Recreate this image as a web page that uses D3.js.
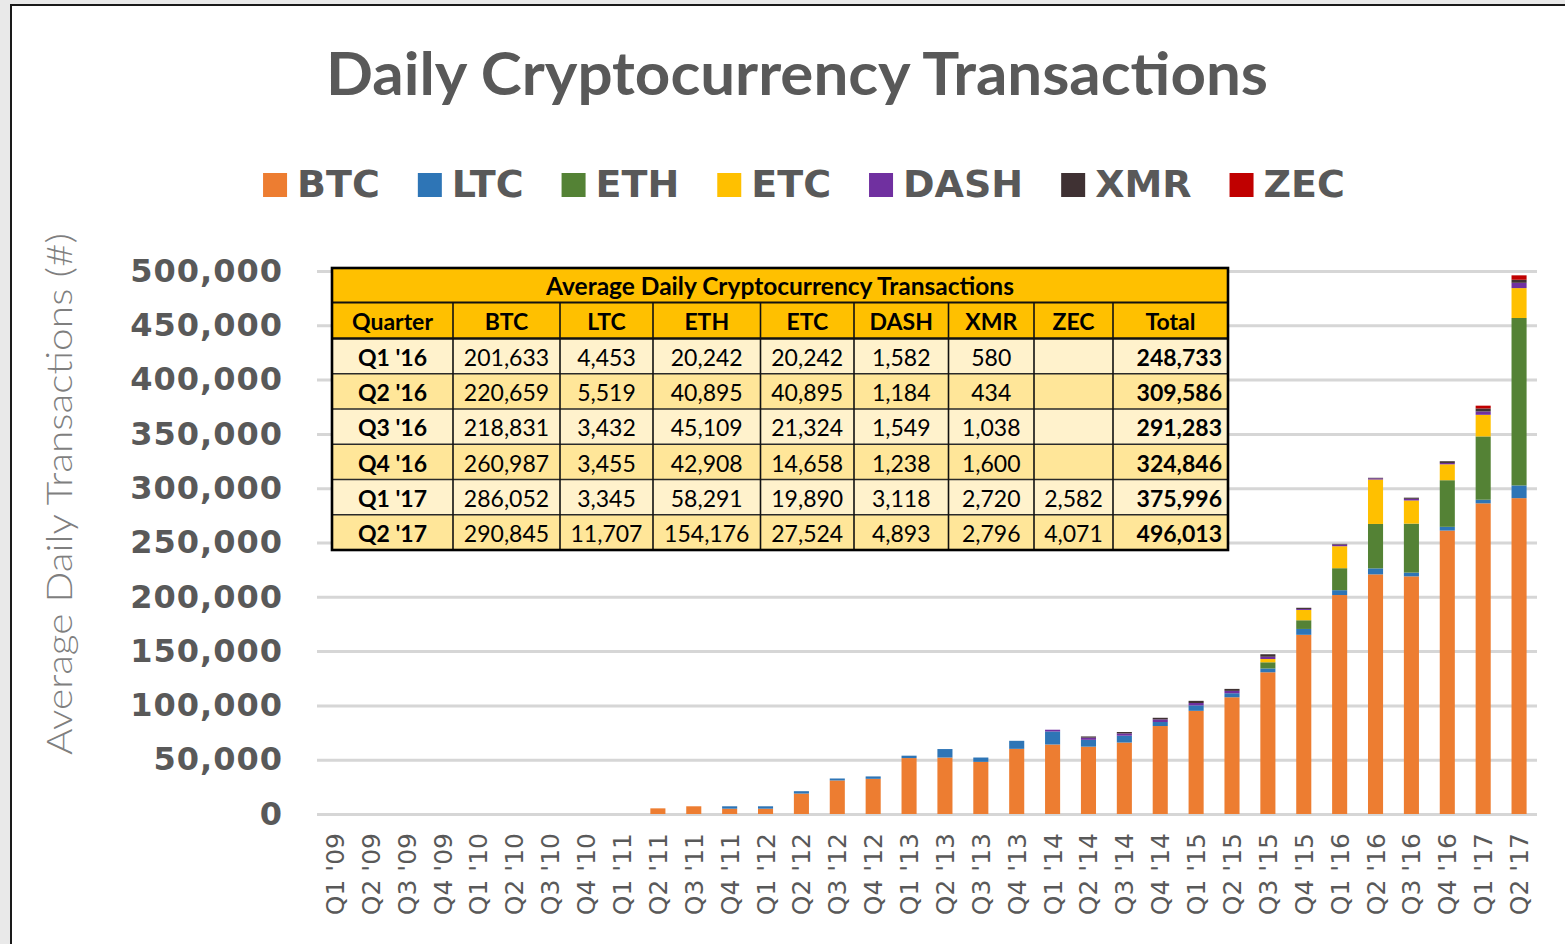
<!DOCTYPE html>
<html>
<head>
<meta charset="utf-8">
<script src="https://cdn.jsdelivr.net/npm/d3@7"></script>
<style>
  body { margin: 0; background: #e9e9e9; }
  svg { display: block; }
</style>
</head>
<body>
<div id="chart"></div>
<script>
// ---- data ----
var quarters = ["Q1 '09", "Q2 '09", "Q3 '09", "Q4 '09", "Q1 '10", "Q2 '10", "Q3 '10", "Q4 '10",
  "Q1 '11", "Q2 '11", "Q3 '11", "Q4 '11", "Q1 '12", "Q2 '12", "Q3 '12", "Q4 '12",
  "Q1 '13", "Q2 '13", "Q3 '13", "Q4 '13", "Q1 '14", "Q2 '14", "Q3 '14", "Q4 '14",
  "Q1 '15", "Q2 '15", "Q3 '15", "Q4 '15", "Q1 '16", "Q2 '16", "Q3 '16", "Q4 '16",
  "Q1 '17", "Q2 '17"];

var coins = ["BTC", "LTC", "ETH", "ETC", "DASH", "XMR", "ZEC"];
var coinColors = ["#ed7d31", "#2e75b6", "#548235", "#ffc000", "#7030a0", "#3f3133", "#c00000"];

var btc = [0, 0, 0, 0, 0, 0, 0, 0, 0, 5200, 7100, 4900, 4900, 18800, 30900, 32400,
  51500, 52000, 48000, 60000, 64000, 62000, 65800, 81000, 95000, 107500, 130500, 165000,
  201633, 220659, 218831, 260987, 286052, 290845];
var ltc = [0, 0, 0, 0, 0, 0, 0, 0, 0, 0, 0, 2200, 2200, 2200, 1800, 2200,
  2200, 7800, 4000, 7400, 12000, 6300, 6300, 3700, 5000, 3700, 3500, 5400,
  4453, 5519, 3432, 3455, 3345, 11707];
var eth = [0, 0, 0, 0, 0, 0, 0, 0, 0, 0, 0, 0, 0, 0, 0, 0,
  0, 0, 0, 0, 0, 0, 0, 0, 0, 0, 5700, 8000,
  20242, 40895, 45109, 42908, 58291, 154176];
var etc = [0, 0, 0, 0, 0, 0, 0, 0, 0, 0, 0, 0, 0, 0, 0, 0,
  0, 0, 0, 0, 0, 0, 0, 0, 0, 0, 3000, 9500,
  20242, 40895, 21324, 14658, 19890, 27524];
var dash = [0, 0, 0, 0, 0, 0, 0, 0, 0, 0, 0, 0, 0, 0, 0, 0,
  0, 0, 0, 0, 1600, 2000, 2100, 2400, 2200, 2200, 2100, 900,
  1582, 1184, 1549, 1238, 3118, 4893];
var xmr = [0, 0, 0, 0, 0, 0, 0, 0, 0, 0, 0, 0, 0, 0, 0, 0,
  0, 0, 0, 0, 0, 1100, 1300, 1500, 2000, 1800, 2300, 1100,
  580, 434, 1038, 1600, 2720, 2796];
var zec = [0, 0, 0, 0, 0, 0, 0, 0, 0, 0, 0, 0, 0, 0, 0, 0,
  0, 0, 0, 0, 0, 0, 0, 0, 0, 0, 0, 0,
  0, 0, 0, 0, 2582, 4071];

var yTicks = [0, 50000, 100000, 150000, 200000, 250000, 300000, 350000, 400000, 450000, 500000];

// table
var tableHeaders = ["Quarter", "BTC", "LTC", "ETH", "ETC", "DASH", "XMR", "ZEC", "Total"];
var tableQuarters = ["Q1 '16", "Q2 '16", "Q3 '16", "Q4 '16", "Q1 '17", "Q2 '17"];
var tableBtc = [201633, 220659, 218831, 260987, 286052, 290845];
var tableLtc = [4453, 5519, 3432, 3455, 3345, 11707];
var tableEth = [20242, 40895, 45109, 42908, 58291, 154176];
var tableEtc = [20242, 40895, 21324, 14658, 19890, 27524];
var tableDash = [1582, 1184, 1549, 1238, 3118, 4893];
var tableXmr = [580, 434, 1038, 1600, 2720, 2796];
var tableZec = [null, null, null, null, 2582, 4071];
var tableTotal = [248733, 309586, 291283, 324846, 375996, 496013];

// ---- svg ----
var W = 1565, H = 944;
var svg = d3.select("#chart").append("svg")
  .attr("width", W)
  .attr("height", H);

// white sheet with the dark frame at top and left
svg.append("rect").attr("x", 11).attr("y", 5).attr("width", W).attr("height", H).style("fill", "#ffffff");
svg.append("line").attr("x1", 10.5).attr("x2", W).attr("y1", 5).attr("y2", 5)
  .style("stroke", "#1a1a1a").style("stroke-width", 2);
svg.append("line").attr("x1", 11).attr("x2", 11).attr("y1", 4).attr("y2", H)
  .style("stroke", "#1a1a1a").style("stroke-width", 2);

var gray = "#595959";

// title
svg.append("text")
  .attr("x", 797)
  .attr("y", 95)
  .attr("text-anchor", "middle")
  .attr("textLength", 942)
  .attr("lengthAdjust", "spacingAndGlyphs")
  .style("font-family", "Lato")
  .style("font-weight", 700)
  .style("font-size", "60px")
  .style("fill", gray)
  .text("Daily Cryptocurrency Transactions");

// scales
var xScale = d3.scaleBand()
  .domain(quarters)
  .range([317, 1537])
  .paddingInner(0.58)
  .paddingOuter(0.29);

var yScale = d3.scaleLinear()
  .domain([0, 500000])
  .range([814, 271]);

// gridlines
var grid = svg.append("g")
  .attr("transform", "translate(317,0)")
  .call(d3.axisRight(yScale).tickValues(yTicks).tickSize(1220).tickFormat(""));
grid.select(".domain").remove();
grid.selectAll("line").style("stroke", "#d6d6d6").style("stroke-width", 3);

// y axis labels
var yAxis = svg.append("g")
  .attr("transform", "translate(283,0)")
  .call(d3.axisLeft(yScale).tickValues(yTicks).tickSize(0).tickPadding(0).tickFormat(d3.format(",")));
yAxis.select(".domain").remove();
yAxis.selectAll("text")
  .style("font-family", "DejaVu Sans")
  .style("font-weight", 700)
  .style("font-size", "32px")
  .style("letter-spacing", "1px")
  .style("fill", gray);

// y axis title
svg.append("text")
  .attr("transform", "translate(72,494) rotate(-90)")
  .attr("text-anchor", "middle")
  .attr("textLength", 522)
  .attr("lengthAdjust", "spacingAndGlyphs")
  .style("font-family", "Lato")
  .style("font-weight", 300)
  .style("font-size", "36px")
  .style("fill", "#7f7f7f")
  .text("Average Daily Transactions (#)");

// x axis labels
var xAxis = svg.append("g")
  .attr("transform", "translate(0,814)")
  .call(d3.axisBottom(xScale).tickSize(0));
xAxis.select(".domain").remove();
xAxis.selectAll("text")
  .attr("transform", "rotate(-90)")
  .attr("x", -19)
  .attr("y", 0)
  .attr("dy", "0.36em")
  .style("text-anchor", "end")
  .style("font-family", "DejaVu Sans")
  .style("font-size", "25px")
  .style("fill", gray);

// stacked bars
var series = { BTC: btc, LTC: ltc, ETH: eth, ETC: etc, DASH: dash, XMR: xmr, ZEC: zec };
var rows = quarters.map(function (q, i) {
  var r = { quarter: q };
  coins.forEach(function (c) { r[c] = series[c][i]; });
  return r;
});
var stacked = d3.stack().keys(coins)(rows);

svg.append("g").selectAll("g")
  .data(stacked)
  .enter()
  .append("g")
  .style("fill", function (d, i) { return coinColors[i]; })
  .selectAll("rect")
  .data(function (d) { return d; })
  .enter()
  .append("rect")
  .attr("x", function (d) { return xScale(d.data.quarter); })
  .attr("width", xScale.bandwidth())
  .attr("y", function (d) { return yScale(d[1]); })
  .attr("height", function (d) { return yScale(d[0]) - yScale(d[1]); });

// legend
var legend = svg.append("g");
var legendX = 0;
coins.forEach(function (c, i) {
  var item = legend.append("g").attr("transform", "translate(" + legendX + ",0)");
  item.append("rect")
    .attr("x", 0).attr("y", 173)
    .attr("width", 24).attr("height", 24)
    .style("fill", coinColors[i]);
  var t = item.append("text")
    .attr("x", 34).attr("y", 197)
    .style("font-family", "DejaVu Sans")
    .style("font-weight", 700)
    .style("font-size", "38px")
    .style("fill", gray)
    .text(c);
  legendX += 34 + t.node().getComputedTextLength() + 38;
});
legendX -= 38;
legend.attr("transform", "translate(" + (804 - legendX / 2) + ",0)");

// ---- data table ----
var colEdges = [332, 453, 560, 653, 760.5, 854, 948.5, 1034, 1113, 1228];
var tTop = 268, hTop = 302.5, dTop = 338.5, rowH = 35.25;
var tBottom = dTop + rowH * tableQuarters.length;
var numFmt = d3.format(",");

var table = svg.append("g");

table.append("rect")
  .attr("x", colEdges[0]).attr("y", tTop)
  .attr("width", colEdges[9] - colEdges[0]).attr("height", dTop - tTop)
  .style("fill", "#ffc000");

var tableRows = tableQuarters.map(function (q, i) {
  return [q, tableBtc[i], tableLtc[i], tableEth[i], tableEtc[i], tableDash[i], tableXmr[i], tableZec[i], tableTotal[i]];
});

table.selectAll(".rowbg")
  .data(tableRows)
  .enter()
  .append("rect")
  .attr("x", colEdges[0])
  .attr("y", function (d, i) { return dTop + i * rowH; })
  .attr("width", colEdges[9] - colEdges[0])
  .attr("height", rowH)
  .style("fill", function (d, i) { return i % 2 === 0 ? "#fff2cc" : "#ffe699"; });

// row lines
table.selectAll(".hline")
  .data(d3.range(1, tableQuarters.length))
  .enter()
  .append("line")
  .attr("x1", colEdges[0]).attr("x2", colEdges[9])
  .attr("y1", function (d) { return dTop + d * rowH; })
  .attr("y2", function (d) { return dTop + d * rowH; })
  .style("stroke", "#2a2a2a").style("stroke-width", 1.5);

table.append("line")
  .attr("x1", colEdges[0]).attr("x2", colEdges[9]).attr("y1", hTop).attr("y2", hTop)
  .style("stroke", "#111").style("stroke-width", 1.8);
table.append("line")
  .attr("x1", colEdges[0]).attr("x2", colEdges[9]).attr("y1", dTop).attr("y2", dTop)
  .style("stroke", "#111").style("stroke-width", 2.6);

// column lines
table.selectAll(".vline")
  .data(colEdges.slice(1, 9))
  .enter()
  .append("line")
  .attr("x1", function (d) { return d; }).attr("x2", function (d) { return d; })
  .attr("y1", hTop).attr("y2", tBottom)
  .style("stroke", "#111").style("stroke-width", 1.6);

// outer border
table.append("rect")
  .attr("x", colEdges[0]).attr("y", tTop)
  .attr("width", colEdges[9] - colEdges[0]).attr("height", tBottom - tTop)
  .style("fill", "none").style("stroke", "#000").style("stroke-width", 2.6);

var cellFont = function (sel) {
  sel.style("font-family", "Lato").style("font-size", "23px").style("fill", "#000");
};

table.append("text")
  .attr("x", (colEdges[0] + colEdges[9]) / 2)
  .attr("y", (tTop + hTop) / 2)
  .attr("dy", "0.4em")
  .attr("text-anchor", "middle")
  .call(cellFont)
  .style("font-size", "24.5px")
  .style("font-weight", 700)
  .text("Average Daily Cryptocurrency Transactions");

table.selectAll(".head")
  .data(tableHeaders)
  .enter()
  .append("text")
  .attr("x", function (d, i) { return (colEdges[i] + colEdges[i + 1]) / 2; })
  .attr("y", (hTop + dTop) / 2)
  .attr("dy", "0.4em")
  .attr("text-anchor", "middle")
  .call(cellFont)
  .style("font-weight", 700)
  .text(function (d) { return d; });

table.selectAll(".cellrow")
  .data(tableRows)
  .enter()
  .append("g")
  .attr("transform", function (d, i) { return "translate(0," + (dTop + i * rowH + rowH / 2) + ")"; })
  .selectAll("text")
  .data(function (d) { return d; })
  .enter()
  .append("text")
  .attr("x", function (d, j) { return j === 8 ? colEdges[9] - 6 : (colEdges[j] + colEdges[j + 1]) / 2; })
  .attr("dy", "0.42em")
  .attr("text-anchor", function (d, j) { return j === 8 ? "end" : "middle"; })
  .call(cellFont)
  .style("font-weight", function (d, j) { return (j === 0 || j === 8) ? 700 : 400; })
  .text(function (d, j) {
    if (d === null) return "";
    return j === 0 ? d : numFmt(d);
  });
</script>
</body>
</html>
